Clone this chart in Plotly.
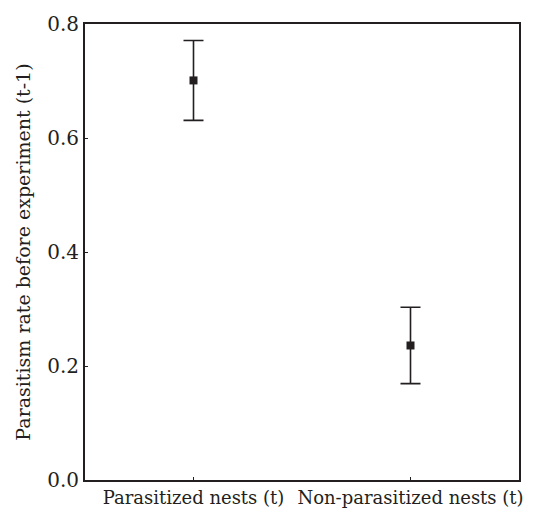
import plotly.graph_objects as go

categories = ["Parasitized nests (t)", "Non-parasitized nests (t)"]
means = [0.701, 0.236]
errors = [0.070, 0.067]
y_ticks = [0.0, 0.2, 0.4, 0.6, 0.8]

font_family = "DejaVu Serif"

fig = go.Figure()
fig.add_trace(go.Scatter(
    x=list(range(len(categories))),
    y=means,
    mode="markers",
    marker=dict(symbol="square", size=8, color="#231f20"),
    error_y=dict(type="data", array=errors, visible=True, color="#231f20",
                 thickness=1.6, width=10),
    showlegend=False,
))

fig.update_layout(
    width=535, height=520,
    margin=dict(l=85, r=15, t=17, b=35),
    plot_bgcolor="white", paper_bgcolor="white",
    font=dict(family=font_family, size=20, color="#231f20"),
)
fig.update_xaxes(
    range=[-0.5, 1.5],
    tickmode="array", tickvals=list(range(len(categories))), ticktext=categories,
    ticks="inside", ticklen=3, tickwidth=1, tickcolor="#231f20",
    showline=True, linewidth=2, linecolor="#231f20", mirror=True,
    showgrid=False, zeroline=False,
    tickangle=0,
    tickfont=dict(family=font_family, size=18),
)
fig.update_yaxes(
    range=[0, 0.8],
    tickmode="array", tickvals=y_ticks, ticktext=[f"{v:.1f}" for v in y_ticks],
    ticks="inside", ticklen=3, tickwidth=1, tickcolor="#231f20",
    showline=True, linewidth=2, linecolor="#231f20", mirror=True,
    showgrid=False, zeroline=False,
    title=dict(text="Parasitism rate before experiment (t-1)",
               font=dict(family=font_family, size=19), standoff=12),
    tickfont=dict(family=font_family, size=20),
)

fig.write_html("out.html")
